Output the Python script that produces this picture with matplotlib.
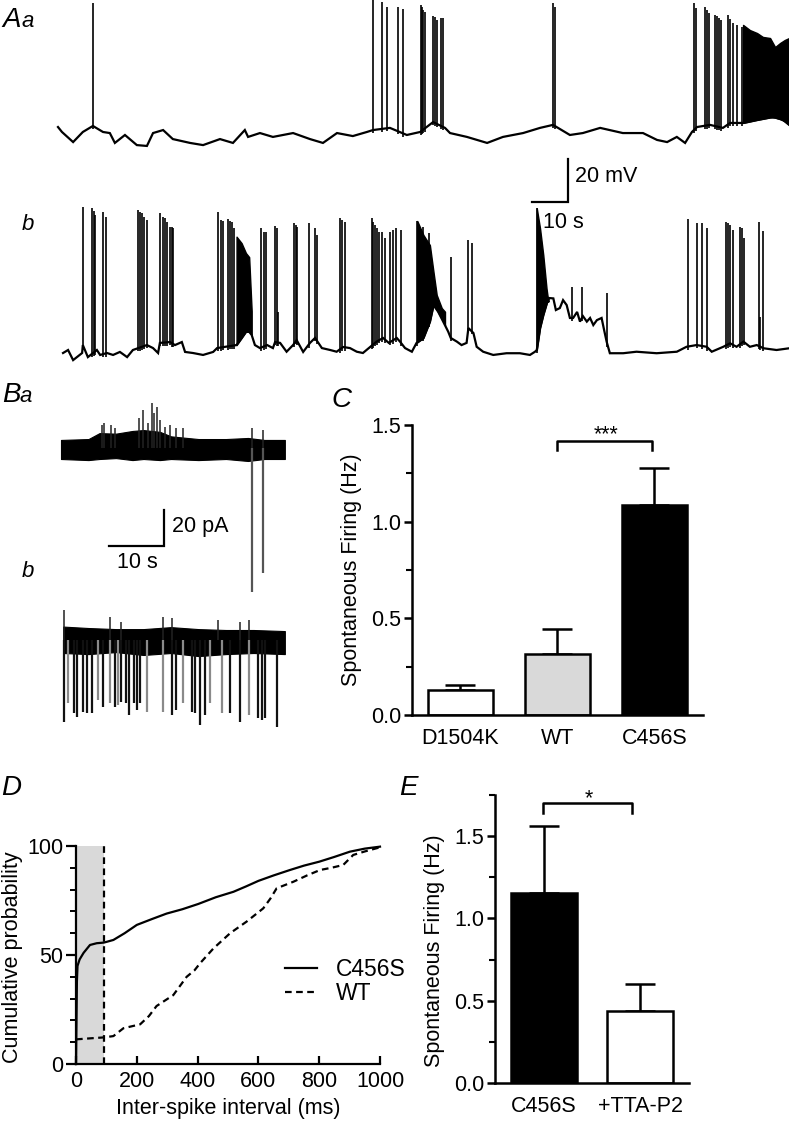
import numpy as np
import matplotlib
matplotlib.use('Agg')
import matplotlib.pyplot as plt
from matplotlib.lines import Line2D

plt.rcParams['font.family'] = ['Liberation Sans', 'DejaVu Sans']

# ---------------- data ----------------
# A a: current-clamp trace, time in s, membrane potential in mV
aa_base_t = [0, 1.1, 4.2, 6.9, 9.7, 12.5, 14.4, 15.8, 18.6, 21.9, 24.7, 26.4, 29.2, 31.9, 36.7,
             40.3, 45, 48.6, 51.9, 52.8, 56.1, 59.7, 65.3, 70, 73.6, 77.5, 81.9, 85.8, 87.5, 92.2,
             96.9, 100.6, 104.2, 107.5, 108.9, 113.6, 119.2, 123.6, 129.2, 133.9, 137.5, 142.2,
             145.8, 150.6, 156.9, 162.5, 166.4, 169.2, 171.9, 174.2, 176.1, 177.5, 181.1, 184.7,
             186.7, 190.3, 194.2, 198.6, 201.4, 203.1]
aa_base_v = [-56.3, -58.6, -63.3, -58.6, -55.8, -58.6, -59.1, -63.7, -60, -64.7, -65.1, -59.1,
             -57.7, -61.9, -63.7, -64.7, -61.9, -63.7, -57.7, -60.9, -59.1, -60.9, -59.1, -61.9,
             -63.7, -59.1, -60.5, -58.6, -57.7, -56.7, -60, -58.6, -54, -56.7, -59.1, -60.9,
             -63.7, -60.9, -59.1, -56.7, -55.3, -60, -59.1, -56.7, -59.1, -59.1, -62.3, -63.3,
             -60.9, -63.7, -58.6, -56.3, -55.3, -56.7, -54.4, -54.4, -53, -51.6, -53, -55.3]
aa_spike_t = [9.7, 87.5, 90.0, 91.4, 94.4, 95.8, 100.8, 101.1, 101.4, 101.9, 104.2, 104.7, 105.3,
              106.4, 106.9, 137.5, 138.1, 176.7, 177.2, 179.7, 180.3, 180.8, 182.5, 183.1, 183.6,
              184.2, 186.1, 186.7, 187.5, 188.6, 190.0]
aa_spike_v = [1.4, 2.8, 1.8, -0.5, -0.5, -1.4, 0.5, -0.5, -1.9, -2.8, -4.7, -5.1, -6.5, -5.6,
              -5.6, 1.4, -0.5, 1.4, -0.9, -0.5, -1.9, -3.3, -4.2, -4.7, -5.6, -6.5, -4.2, -6.1,
              -7.9, -8.8, -9.8]
# envelope of the high-frequency burst at the end
aa_burst_t = [190.3, 192.2, 194.2, 195.8, 197.8, 199.2, 200.6, 201.9, 203.1]
aa_burst_v = [-8.8, -11.2, -12.6, -14.4, -14.9, -19.1, -17.2, -15.8, -14.9]

# A b
ab_base_t = [1.4, 2.8, 4.2, 6.7, 6.9, 8.3, 10.8, 11.7, 13.6, 15.3, 17.2, 19.2, 20.8, 24.7, 26.4,
             27.8, 28.3, 31.1, 32.5, 34.4, 35.3, 37.5, 40.3, 43.1, 44.2, 49.6, 51.0, 52.2, 53.1,
             53.8, 54.7, 56.1, 58.1, 59.7, 60.3, 61.7, 63.5, 65.3, 66.3, 68.1, 70.0, 71.4, 73.3,
             75.6, 77.4, 79.2, 81.1, 83.0, 84.7, 86.7, 88.5, 90.3, 91.9, 94.1, 95.0, 96.4, 98.3,
             99.6, 101.5, 103.3, 104.3, 105.6, 107.0, 108.4, 109.1, 110.8, 112.1, 113.5, 114.0,
             115.4, 116.3, 118.1, 120.9, 124.6, 128.3, 131.1, 132.5, 133.0, 133.9, 134.8, 136.2,
             137.6, 138.3, 139.4, 140.3, 141.3, 142.2, 143.1, 144.2, 145.0, 145.8, 146.9, 147.8,
             148.7, 149.7, 151.0, 151.7, 152.4, 153.3, 157.0, 160.7, 166.3, 171.9, 174.6, 177.4,
             180.2, 181.6, 184.8, 186.7, 188.5, 190.4, 192.2, 194.1, 196.0, 199.6, 203.1]
ab_base_v = [-60, -58.6, -63.3, -60, -56.3, -61.9, -58.6, -60.9, -60, -60.9, -59.5, -61.9, -58.6,
             -56.3, -57.7, -60, -55.3, -54.9, -56.3, -54.9, -59.5, -60, -60.9, -59.5, -57.7,
             -56.3, -53, -50.1, -50.1, -51.6, -56.3, -57.7, -56.3, -57.7, -54.9, -55.3, -59.4,
             -56.3, -54, -59.5, -55.3, -53, -57.7, -58.6, -59.4, -57.2, -57.7, -59.4, -60, -57.2,
             -54.7, -53, -55.3, -53, -54.7, -57.7, -59.4, -55.3, -53, -45.4, -37.7, -40.8, -45.4,
             -50.1, -53, -54.7, -56.3, -55.3, -48.4, -50.7, -57.1, -59.4, -60.9, -60.1, -60.1,
             -60.9, -59.4, -58.6, -48.4, -42.3, -34.4, -34.6, -40, -39.1, -35.4, -37.7, -43.7,
             -43.7, -40.9, -45.4, -42.8, -45.4, -43.7, -47, -44.7, -43.7, -49.3, -54.7, -60.1,
             -60.1, -59.4, -60.1, -59.4, -57.1, -56.3, -57.1, -59.4, -57.1, -55.5, -57.1, -54.7,
             -57.1, -56.3, -57.8, -58.6, -57.8]
ab_spike_t = [6.9, 9.4, 9.9, 10.3, 12.5, 13.3, 22.2, 22.8, 23.3, 23.9, 24.7, 28.3, 29.2, 29.7,
              30.3, 31.1, 31.7, 31.9, 44.4, 45.2, 45.8, 47.3, 47.8, 48.4, 49.0, 56.4, 57.2, 57.8,
              60.3, 60.7, 61.2, 65.6, 66.1, 66.5, 69.7, 71.4, 71.9, 78.3, 78.8, 79.7, 87.1, 87.6,
              88.1, 88.5, 89.3, 89.9, 90.8, 92.2, 93.0, 93.9, 95.3, 99.8, 101.5, 103.1, 109.2,
              114.0, 114.9, 133.0, 142.7, 145.5, 152.6, 174.9, 177.4, 178.8, 180.4, 185.6, 186.0,
              186.7, 187.4, 189.4, 189.9, 190.6, 194.7, 195.0, 195.9]
ab_spike_v = [7.9, 7.4, 6.0, 4.2, 5.6, 3.2, 6.5, 5.6, 5.1, 3.2, 1.8, 5.1, 3.2, 2.8, 0.9, -1.4,
              -1.4, -1.9, 5.7, 1.8, 1.4, 2.2, 1.4, 0.8, -2.0, -1.7, -3.7, -3.7, -0.9, -1.9, -40.9,
              0.5, -0.5, -1.4, 0.5, -1.9, -5.1, 2.8, 1.8, 0.9, 2.9, 0.9, -0.5, -1.9, -3.7, -3.7,
              -6.5, -3.6, -2.8, -2.0, -2.8, 1.4, -1.3, -4.2, -15.2, -7.5, -9.0, 7.3, -29.2, -29.2,
              -32.1, 2.2, 0.3, 0.6, -1.7, 1.1, 0.6, -0.5, -2.8, -1.3, -2.0, -6.7, 1.1, -43.1, -3.3]
ab_burst1_t = [49.6, 51.0, 52.2, 53.1, 53.8]
ab_burst1_v = [-5.9, -8.9, -13.5, -15.4, -40.5]
ab_burst2_t = [99.8, 101.5, 103.3, 104.3, 105.2, 106.6, 107.5]
ab_burst2_v = [1.4, -5.1, -9.8, -22.2, -33.0, -39.1, -40.8]
ab_burst3_t = [133.0, 133.9, 134.8, 135.7, 136.2]
ab_burst3_v = [7.3, -2.0, -14.4, -29.9, -36.1]

# B: cell-attached traces, time in s, current in pA
ba_band_t = [0, 5, 7, 10, 13, 15, 18, 20, 25, 30, 34, 37, 40.7]
ba_top = [4.5, 5.0, 8.3, 8.0, 9.5, 10.0, 9.0, 6.5, 5.0, 5.0, 5.6, 4.5, 4.5]
ba_bot = [-6.1, -6.7, -6.1, -5.6, -6.7, -6.1, -6.7, -6.1, -6.7, -6.1, -7.2, -6.1, -6.1]
ba_up_t = [7.4, 7.9, 9.1, 9.8, 14.2, 15.0, 15.8, 16.5, 16.9, 17.4, 18.0, 19.0, 19.9, 21.0, 22.2,
           34.7, 36.8]
ba_up_i = [12.8, 13.7, 12.8, 10.9, 16.5, 21.1, 13.7, 24.9, 19.3, 23.0, 15.6, 11.8, 12.8, 10.9,
           10.9, 10.9, 10.0]
ba_down_t = [34.7, 36.7]
ba_down_i = [-80.0, -69.5]

bb_band_t = [0.4, 5, 10, 15, 20, 25, 30, 35, 40.7]
bb_top = [7.5, 6.7, 6.1, 6.1, 7.2, 6.1, 5.6, 5.6, 5.0]
bb_bot = [-7.2, -7.8, -6.7, -8.3, -7.2, -8.9, -7.8, -7.2, -7.8]
bb_up_t = [0.55, 8.9, 11.0, 18.6, 20.1, 28.5, 32.5, 34.1]
bb_up_i = [16.7, 13.0, 10.0, 13.0, 12.0, 11.0, 10.0, 11.0]
bb_down_t = [0.55, 1.33, 2.36, 2.85, 3.94, 4.79, 5.58, 6.79, 7.7, 8.9, 9.8, 10.4, 11.0, 11.8,
             12.4, 13.2, 13.8, 14.4, 15.6, 18.6, 20.1, 21.0, 22.2, 23.8, 24.4, 25.3, 26.2, 27.1,
             29.2, 30.7, 32.5, 34.1, 35.9, 36.5, 37.1, 39.2]
bb_down_i = [-45.4, -35.2, -40.8, -42.6, -39.9, -40.8, -40.8, -33.4, -37.1, -35.2, -37.1, -36.1,
             -34.3, -35.2, -41.7, -35.2, -38.9, -35.2, -39.9, -39.9, -41.7, -38.9, -35.2, -39.9,
             -40.8, -47.3, -41.7, -35.2, -40.8, -40.8, -45.4, -41.7, -43.5, -44.5, -43.5, -48.2]

# C: spontaneous firing
c_groups = ['D1504K', 'WT', 'C456S']
c_mean = [0.129, 0.316, 1.086]
c_sem = [0.026, 0.131, 0.193]

# D: cumulative ISI distributions
isi_c456s = [0, 3, 5, 12, 25, 46, 68, 92, 123, 160, 200, 250, 298, 350, 402, 460, 518, 560, 600,
             650, 704, 750, 800, 850, 901, 950, 1000]
cum_c456s = [0, 38, 45, 48, 51, 54.6, 55.4, 55.7, 56.9, 60, 63.8, 66.5, 69, 71, 73.4, 76.5, 79,
             81.5, 84, 86.5, 89, 91, 92.8, 95, 97.4, 98.8, 99.7]
isi_wt = [0, 50, 92, 123, 156, 211, 240, 265, 320, 364, 390, 408, 452, 507, 561, 616, 640, 660,
          715, 760, 803, 840, 879, 912, 950, 1000]
cum_wt = [11.3, 11.8, 12.2, 12.8, 16.4, 18.2, 22, 26.6, 31.6, 40, 43, 46.2, 53, 60, 65.3, 71.4,
          76, 80.6, 83.6, 86.5, 89, 90, 91.3, 95.9, 97.5, 99.4]
isi_cut = 92

# E: effect of TTA-P2
e_groups = ['C456S', '+TTA-P2']
e_mean = [1.157, 0.44]
e_sem = [0.402, 0.16]

# ---------------- figure ----------------
W, H = 789, 1125
fig = plt.figure(figsize=(W / 100, H / 100), dpi=100)
FS = 15.5


def box(x0, y0, x1, y1):
    # pixel box with top-left origin -> figure rect
    return [x0 / W, 1 - y1 / H, (x1 - x0) / W, (y1 - y0) / H]


def trace(ax, bt, bv, st, sv, bursts, off):
    bt = np.asarray(bt, float)
    bv = np.asarray(bv, float) + off
    ax.plot(bt, bv, color='k', lw=1.6, clip_on=False, solid_joinstyle='miter')
    base = np.interp(st, bt, bv)
    ax.vlines(st, base - 1.5, np.asarray(sv) + off, color='k', lw=1.2, clip_on=False)
    for t, v in bursts:
        lo = np.interp(t, bt, bv)
        ax.fill_between(t, lo, np.asarray(v) + off, color='k', lw=1.0)


# panel A
ax_a = fig.add_axes(box(0, 0, 789, 370))
ax_a.set_xlim(-16.11, 203.06)
ax_a.set_ylim(-169.3, 2.78)
ax_a.axis('off')
trace(ax_a, aa_base_t, aa_base_v, aa_spike_t, aa_spike_v, [(aa_burst_t, aa_burst_v)], 0)
trace(ax_a, ab_base_t, ab_base_v, ab_spike_t, ab_spike_v,
      [(ab_burst1_t, ab_burst1_v), (ab_burst2_t, ab_burst2_v), (ab_burst3_t, ab_burst3_v)], -101.4)
ax_a.plot([131.7, 141.7, 141.7], [-91, -91, -71], color='k', lw=1.6, solid_joinstyle='miter')
ax_a.text(143.6, -79.5, '20 mV', fontsize=FS, va='center', ha='left')
ax_a.text(134.7, -100.5, '10 s', fontsize=FS, va='center', ha='left')

# panel B
ax_b = fig.add_axes(box(0, 370, 330, 760))
ax_b.set_xlim(-11.09, 48.91)
ax_b.set_ylim(-173.5, 43.4)
ax_b.axis('off')
ax_b.fill_between(ba_band_t, ba_bot, ba_top, color='k', lw=0.8)
ax_b.vlines(ba_up_t, 0, ba_up_i, color='#222222', lw=1.1)
ax_b.vlines(ba_down_t, 0, ba_down_i, color='#555555', lw=1.6)
off_b = -106.8
ax_b.fill_between(bb_band_t, np.array(bb_bot) + off_b, np.array(bb_top) + off_b, color='k', lw=0.8)
ax_b.vlines(bb_up_t, off_b, np.array(bb_up_i) + off_b, color='#222222', lw=1.1)
grey_idx = {1, 7, 9, 11, 18, 19, 22, 27, 28, 31}
cols = ['#8a8a8a' if i in grey_idx else '#111111' for i in range(len(bb_down_t))]
ax_b.vlines(bb_down_t, off_b, np.array(bb_down_i) + off_b, colors=cols, lw=1.6)
ax_b.plot([8.73, 18.73, 18.73], [-54.5, -54.5, -34.5], color='k', lw=1.6, solid_joinstyle='miter')
ax_b.text(20.2, -43.9, '20 pA', fontsize=FS, va='center', ha='left')
ax_b.text(10.2, -63.9, '10 s', fontsize=FS, va='center', ha='left')


def style_bar_axes(ax, top):
    for s in ['top', 'right']:
        ax.spines[s].set_visible(False)
    for s in ['left', 'bottom']:
        ax.spines[s].set_linewidth(1.8)
    ax.set_ylim(0, top)
    ax.set_yticks([0, 0.5, 1.0, 1.5])
    ax.set_yticklabels(['0.0', '0.5', '1.0', '1.5'])
    ax.tick_params(axis='y', which='major', length=6, width=1.8, pad=1.5, labelsize=FS)
    ax.tick_params(axis='y', which='minor', length=4, width=1.5)
    ax.tick_params(axis='x', length=0, pad=9, labelsize=FS)
    ax.set_ylabel('Spontaneous Firing (Hz)', fontsize=FS)


# panel C
ax_c = fig.add_axes(box(412, 425, 703, 715))
xc = np.arange(len(c_groups))
ax_c.bar(xc, c_mean, width=0.67, color=['white', '#d9d9d9', 'black'], edgecolor='k', lw=1.8, zorder=2)
ax_c.errorbar(xc, c_mean, yerr=[np.zeros(len(xc)), c_sem], fmt='none', ecolor='k',
              elinewidth=1.8, capsize=11, capthick=1.8, zorder=1)
ax_c.set_xlim(-0.5, 2.5)
style_bar_axes(ax_c, 1.5)
ax_c.set_yticks([0.25, 0.75, 1.25], minor=True)
ax_c.set_xticks(xc)
ax_c.set_xticklabels(c_groups)
ax_c.yaxis.set_label_coords(-0.172, 0.5)
ax_c.plot([1.0, 1.0, 1.97, 1.97], [1.371, 1.417, 1.417, 1.371], color='k', lw=1.8, clip_on=False)
ax_c.text(1.5, 1.42, '***', fontsize=FS, ha='center', va='baseline')

# panel D
ax_d = fig.add_axes(box(76, 846, 380, 1064))
ax_d.set_xlim(0, 1000)
ax_d.set_ylim(0, 100)
ax_d.axvspan(0, isi_cut, color='#d9d9d9', lw=0, zorder=0)
ax_d.plot([isi_cut, isi_cut], [0, 100], color='k', lw=1.6, ls=(0, (3, 2)))
ax_d.plot(isi_c456s, cum_c456s, color='k', lw=1.6, clip_on=False)
ax_d.plot(isi_wt, cum_wt, color='k', lw=1.6, ls=(0, (3, 2)), clip_on=False)
for s in ['top', 'right']:
    ax_d.spines[s].set_visible(False)
for s in ['left', 'bottom']:
    ax_d.spines[s].set_linewidth(1.6)
ax_d.set_xticks(range(0, 1001, 200))
ax_d.set_yticks([0, 50, 100])
ax_d.set_yticks(range(10, 100, 10), minor=True)
ax_d.tick_params(axis='x', direction='in', length=6, width=1.6, pad=5, labelsize=FS)
ax_d.tick_params(axis='y', which='major', length=7, width=1.6, pad=2, labelsize=FS)
ax_d.tick_params(axis='y', which='minor', length=4, width=1.4)
ax_d.set_xlabel('Inter-spike interval (ms)', fontsize=FS)
ax_d.set_ylabel('Cumulative probability', fontsize=FS)
ax_d.yaxis.set_label_coords(-0.174, 0.49)
ax_d.xaxis.set_label_coords(0.5, -0.155)
handles = [Line2D([], [], color='k', lw=1.6), Line2D([], [], color='k', lw=1.6, ls=(0, (3, 2)))]
ax_d.legend(handles, ['C456S', 'WT'], loc='center left', bbox_to_anchor=(0.6875, 0.378),
            frameon=False, fontsize=16.5, handlelength=1.4, handletextpad=0.8,
            labelspacing=0.05, borderpad=0, borderaxespad=0)

# panel E
ax_e = fig.add_axes(box(495, 795, 689, 1083))
xe = np.arange(len(e_groups))
ax_e.bar(xe, e_mean, width=0.69, color=['black', 'white'], edgecolor='k', lw=1.8, zorder=2)
ax_e.errorbar(xe, e_mean, yerr=[np.zeros(len(xe)), e_sem], fmt='none', ecolor='k',
              elinewidth=1.8, capsize=11, capthick=1.8, zorder=1)
ax_e.set_xlim(-0.51, 1.51)
style_bar_axes(ax_e, 1.75)
ax_e.set_yticks([0.25, 0.75, 1.25, 1.75], minor=True)
ax_e.set_xticks(xe)
ax_e.set_xticklabels(e_groups)
ax_e.yaxis.set_label_coords(-0.258, 0.46)
ax_e.plot([-0.01, -0.01, 0.92, 0.92], [1.64, 1.70, 1.70, 1.64], color='k', lw=1.8, clip_on=False)
ax_e.text(0.47, 1.695, '*', fontsize=FS, ha='center', va='baseline')


# panel letters
def letter(x, y, s, size=20):
    fig.text(x / W, 1 - y / H, s, fontsize=size, style='italic', va='baseline', ha='left')


letter(2, 27, 'A')
letter(22, 27, 'a', 16)
letter(22, 230, 'b', 16)
letter(2, 402, 'B')
letter(19, 402, 'a', 16)
letter(22, 577, 'b', 16)
letter(331, 407, 'C')
letter(1, 795, 'D')
letter(399, 795, 'E')

fig.savefig('out.png', dpi=100)
